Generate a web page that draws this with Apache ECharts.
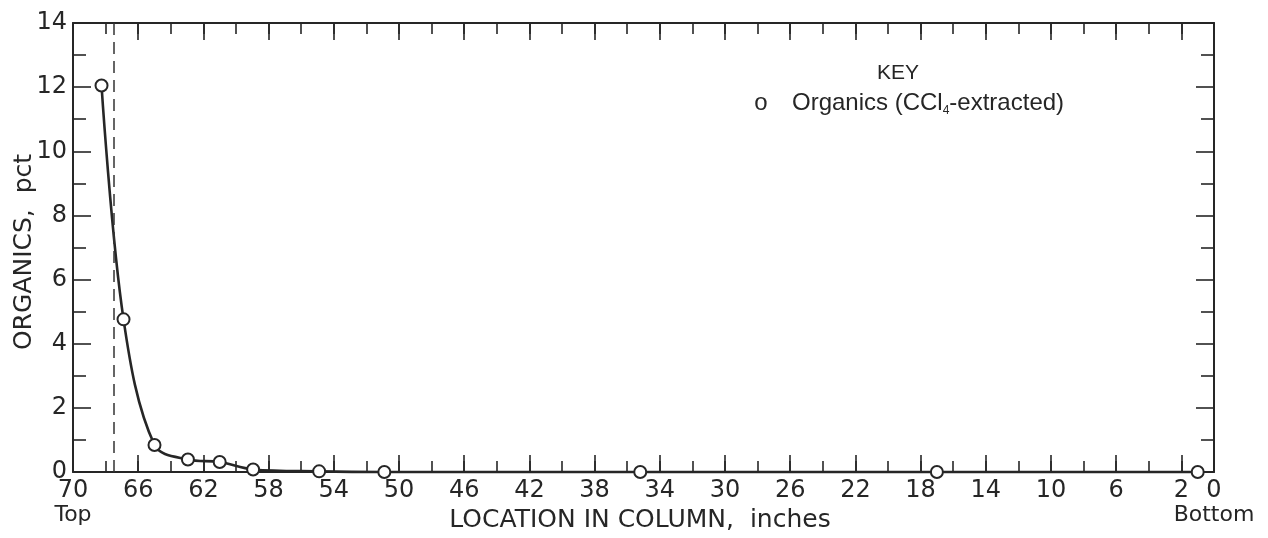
<!DOCTYPE html>
<html>
<head>
<meta charset="utf-8">
<script src="https://cdn.jsdelivr.net/npm/echarts@6/dist/echarts.min.js"></script>
<style>
  html, body { margin: 0; padding: 0; background: #ffffff; }
  #chart { width: 1268px; height: 538px; }
</style>
</head>
<body>
<div id="chart"></div>
<script>
// Sample location in the column, inches from the bottom (70 = top of column)
const locationInches = [68.25, 66.9, 65.0, 62.95, 61.0, 58.95, 54.9, 50.9, 35.2, 17.0, 1.0];
// CCl4-extracted organics at each location, pct
const organicsPct = [12.05, 4.76, 0.84, 0.39, 0.31, 0.08, 0.02, 0.0, 0.0, 0.0, 0.0];

// Labelled positions on the location axis
const xLabelValues = [70, 66, 62, 58, 54, 50, 46, 42, 38, 34, 30, 26, 22, 18, 14, 10, 6, 2, 0];
// Long tick marks on the location axis
const xLongTicks = [66, 62, 58, 54, 50, 46, 42, 38, 34, 30, 26, 22, 18, 14, 10, 6, 2];
// Column ends named under the axis
const columnEnds = [70, 0];
const columnEndNames = ['Top', 'Bottom'];
// Dashed boundary line near the top of the column, inches
const boundaryInches = [67.5];

const INK = '#262626';
const LEROY = '"DejaVu Sans", "Liberation Sans", sans-serif';
const HELV = '"Liberation Sans", Arial, sans-serif';

const points = locationInches.map((x, i) => [x, organicsPct[i]]);

const baseX = {
  type: 'value', min: 0, max: 70, inverse: true, gridIndex: 0,
  splitLine: { show: false }
};

const chart = echarts.init(document.getElementById('chart'), null, { renderer: 'canvas' });

chart.setOption({
  animation: false,
  backgroundColor: '#ffffff',
  textStyle: { fontFamily: LEROY, color: INK },
  grid: { left: 73, right: 54, top: 23, bottom: 66 },
  xAxis: [
    Object.assign({}, baseX, {
      position: 'bottom', interval: 2,
      axisLine: { show: true, onZero: false, lineStyle: { color: INK, width: 2 } },
      axisTick: { show: true, inside: true, length: 11, lineStyle: { color: INK, width: 1.6 } },
      axisLabel: {
        show: true, customValues: xLabelValues, margin: 7,
        showMinLabel: true, showMaxLabel: true, hideOverlap: false,
        fontFamily: LEROY, fontSize: 24, color: INK
      }
    }),
    Object.assign({}, baseX, {
      position: 'bottom',
      axisLine: { show: false, onZero: false },
      axisTick: { show: true, inside: true, length: 17, customValues: xLongTicks, lineStyle: { color: INK, width: 1.6 } },
      axisLabel: {
        show: true, customValues: columnEnds, margin: 32,
        showMinLabel: true, showMaxLabel: true, hideOverlap: false,
        fontFamily: LEROY, fontSize: 22, color: INK,
        formatter: function (v) { return columnEndNames[columnEnds.indexOf(v)]; }
      }
    }),
    Object.assign({}, baseX, {
      position: 'top', interval: 2,
      axisLine: { show: true, onZero: false, lineStyle: { color: INK, width: 2 } },
      axisTick: { show: true, inside: true, length: 11, lineStyle: { color: INK, width: 1.6 } },
      axisLabel: { show: false }
    }),
    Object.assign({}, baseX, {
      position: 'top',
      axisLine: { show: false, onZero: false },
      axisTick: { show: true, inside: true, length: 17, customValues: xLongTicks, lineStyle: { color: INK, width: 1.6 } },
      axisLabel: { show: false }
    })
  ],
  yAxis: [
    {
      type: 'value', min: 0, max: 14, interval: 2, position: 'left',
      axisLine: { show: true, onZero: false, lineStyle: { color: INK, width: 2 } },
      axisTick: { show: true, inside: true, length: 18, lineStyle: { color: INK, width: 1.6 } },
      minorTick: { show: true, splitNumber: 2, length: 13, lineStyle: { color: INK, width: 1.6 } },
      axisLabel: { show: true, margin: 6, fontFamily: LEROY, fontSize: 24, color: INK },
      splitLine: { show: false }, minorSplitLine: { show: false }
    },
    {
      type: 'value', min: 0, max: 14, interval: 2, position: 'right',
      axisLine: { show: true, onZero: false, lineStyle: { color: INK, width: 2 } },
      axisTick: { show: true, inside: true, length: 18, lineStyle: { color: INK, width: 1.6 } },
      minorTick: { show: true, splitNumber: 2, length: 13, lineStyle: { color: INK, width: 1.6 } },
      axisLabel: { show: false },
      splitLine: { show: false }, minorSplitLine: { show: false }
    }
  ],
  series: [
    {
      name: 'Organics (CCl4-extracted)',
      type: 'line',
      xAxisIndex: 0, yAxisIndex: 0,
      data: points,
      smooth: 0.35,
      clip: false,
      symbol: 'emptyCircle',
      symbolSize: 12,
      itemStyle: { color: INK, borderColor: INK, borderWidth: 1.8 },
      lineStyle: { color: INK, width: 2.6 },
      z: 3,
      markLine: {
        silent: true,
        symbol: ['none', 'none'],
        label: { show: false },
        lineStyle: { color: '#333333', width: 1.5, type: [12, 7] },
        data: boundaryInches.map(v => ({ xAxis: v }))
      }
    }
  ],
  graphic: [
    {
      type: 'text',
      x: 24, y: 252, rotation: Math.PI / 2,
      style: {
        text: 'ORGANICS,  pct', fontFamily: LEROY, fontSize: 25, fill: INK,
        align: 'center', verticalAlign: 'middle'
      }
    },
    {
      type: 'text',
      x: 640, y: 520,
      style: {
        text: 'LOCATION IN COLUMN,  inches', fontFamily: LEROY, fontSize: 25, fill: INK,
        align: 'center', verticalAlign: 'middle'
      }
    },
    {
      type: 'text',
      x: 898, y: 73,
      style: {
        text: 'KEY', fontFamily: HELV, fontSize: 21, fill: INK,
        align: 'center', verticalAlign: 'middle'
      }
    },
    {
      type: 'text',
      x: 761, y: 103,
      style: {
        text: 'o', fontFamily: HELV, fontSize: 24, fill: INK,
        align: 'center', verticalAlign: 'middle'
      }
    },
    {
      type: 'text',
      x: 792, y: 103,
      style: {
        text: 'Organics (CCl{sub|4}-extracted)', fontFamily: HELV, fontSize: 24, fill: INK,
        align: 'left', verticalAlign: 'middle', lineHeight: 28,
        rich: { sub: { fontFamily: HELV, fontSize: 12, fill: INK, verticalAlign: 'bottom', lineHeight: 28, padding: [10, 0, 0, 0] } }
      }
    }
  ]
});
</script>
</body>
</html>
